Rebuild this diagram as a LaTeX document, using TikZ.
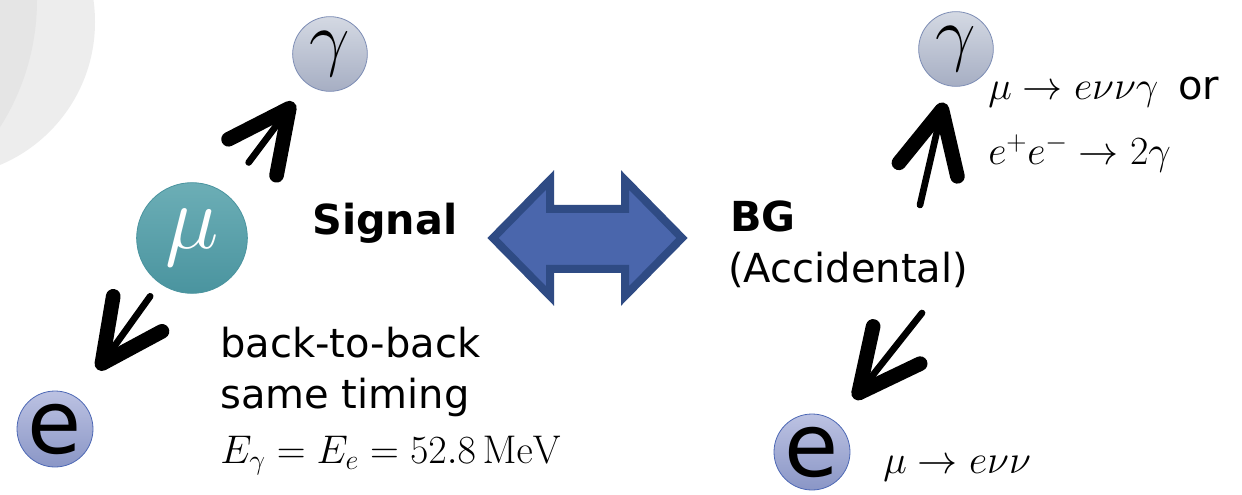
\RequirePackage{fix-cm}
\documentclass[tikz,border=0pt]{standalone}
\usepackage[no-math]{fontspec}
\setmainfont{DejaVu Sans}
\usetikzlibrary{arrows.meta}

\definecolor{wmouter}{HTML}{EDEDED}
\definecolor{wminner}{HTML}{E5E5E5}
\definecolor{gamtop}{HTML}{D4D9E3}
\definecolor{gambot}{HTML}{A6AEC3}
\definecolor{gamline}{HTML}{7D8DB5}
\definecolor{eltop}{HTML}{BCC2E2}
\definecolor{elbot}{HTML}{8A96C6}
\definecolor{elline}{HTML}{4D68B5}
\definecolor{mutop}{HTML}{6CAEB6}
\definecolor{mubot}{HTML}{4A949F}
\definecolor{dbfill}{HTML}{4A66AC}
\definecolor{dbline}{HTML}{2F4B84}

\begin{document}
\begin{tikzpicture}[x=0.75pt,y=-0.75pt,
  particle/.style={circle, inner sep=0pt, minimum size=#1},
  photon/.style={particle=56pt, top color=gamtop, bottom color=gambot,
    draw=gamline, line width=0.6pt, font=\fontsize{54pt}{58pt}\selectfont},
  electron/.style={particle=57pt, top color=eltop, bottom color=elbot,
    draw=elline, line width=0.6pt, font=\fontsize{66pt}{70pt}\selectfont},
  muon/.style={particle=83pt, top color=mutop, bottom color=mubot,
    draw=mubot, line width=0.6pt,
    text=white, font=\fontsize{68pt}{72pt}\selectfont},
  txt/.style={anchor=base west, inner sep=0pt, font=\fontsize{30pt}{36pt}\selectfont},
  headline/.style={txt, font=\fontsize{31pt}{36pt}\selectfont\bfseries},
  flight/.style={line width=5pt, line cap=round,
    -{Straight Barb[length=46pt, width=45pt, line width=11pt 0, round]}},
]
% canvas
\fill[white] (0,0) rectangle (1242,495);
\useasboundingbox (0,0) rectangle (1242,495);

% faint watermark disc in the corner
\begin{scope}
  \clip (0,0) rectangle (1242,495);
  \fill[wmouter] (-60,22) circle[radius=155];
  \begin{scope}
    \clip (-60,22) circle[radius=155];
    \fill[wminner] (-200,0) circle[radius=237];
  \end{scope}
\end{scope}

% ---- signal side ----
\node[photon]   (gamL) at (330,54)  {$\gamma$};
\node[muon]     (mu)   at (192,238) {$\mu$};
\node[electron] (eL)   at (55,429)  {e};

\draw[flight, shorten <=29pt, shorten >=17pt] (mu) -- (gamL);
\draw[flight, shorten <=12pt, shorten >=26pt] (mu) -- (eL);

\node[headline] (sig) at (312,235) {Signal};
\node[txt] (sig1) at (220,357) {back-to-back};
\node[txt] (sig2) at (220,408) {same timing};
\node[txt] (sig3) at (220,463) {$E_\gamma = E_e = 52.8\,\mathrm{MeV}$};

% ---- double arrow between the two cases ----
\draw[fill=dbfill, draw=dbline, line width=6pt]
  (493,238) -- (550,180) -- (550,209) -- (625,209) -- (625,180) -- (682,238)
  -- (625,296) -- (625,269) -- (550,269) -- (550,296) -- cycle;

% ---- accidental background side ----
\node[photon]   (gamR) at (956,49)  {$\gamma$};
\node[electron] (eR)   at (812,452) {e};
\coordinate (srcU) at (920,205);
\coordinate (srcD) at (922,313);

\draw[flight, shorten >=13pt] (srcU) -- (gamR);
\draw[flight, shorten >=22pt] (srcD) -- (eR);

\node[headline] (bg)  at (730,232) {BG};
\node[txt]      (acc) at (728,283) {(Accidental)};

\node[txt] (procA) at (988,100) {$\mu\rightarrow e\nu\nu\gamma$\enspace or};
\node[txt] (procB) at (988,165) {$e^{+}e^{-}\rightarrow 2\gamma$};
\node[txt] (procC) at (883,473) {$\mu\rightarrow e\nu\nu$};
\end{tikzpicture}
\end{document}
